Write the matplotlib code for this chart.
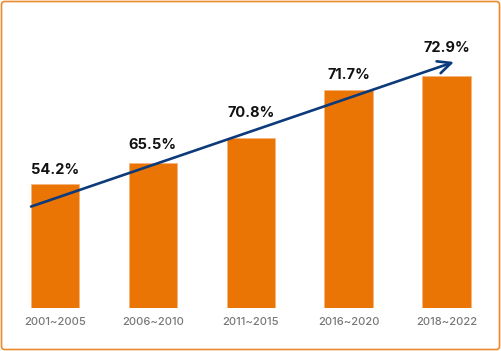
import matplotlib.pyplot as plt
from matplotlib.patches import FancyBboxPatch
from matplotlib.transforms import IdentityTransform

# data
periods = ["2001~2005", "2006~2010", "2011~2015", "2016~2020", "2018~2022"]
shares = [54.2, 65.5, 70.8, 71.7, 72.9]
# drawn bar heights (the original bars are illustrative, not to scale)
bar_heights = [38.8, 45.5, 53.5, 68.5, 72.9]

BAR_COLOR = "#EA7504"
ARROW_COLOR = "#0C3A7A"
BORDER_COLOR = "#E98A2E"
FONT = ["Inter", "DejaVu Sans"]

# label offsets above each bar (points)
label_pad = [10, 13, 18, 11, 20]


def main():
    fig = plt.figure(figsize=(5.01, 3.51), dpi=100)
    ax = fig.add_axes([0, 43.3 / 351, 1, 307.7 / 351])

    x = list(range(len(periods)))
    ax.bar(x, bar_heights, width=0.495, color=BAR_COLOR, edgecolor="#F3B27A", linewidth=0.4)

    for xi, h, v, pad in zip(x, bar_heights, shares, label_pad):
        ax.annotate(f"{v}%", (xi, h), xytext=(0, pad), textcoords="offset points",
                    ha="center", va="center", fontsize=10.5, fontweight="bold",
                    color="#111111", family=FONT)

    # trend arrow from the first bar to above the last one
    x0 = x[0] - 0.245
    y0 = bar_heights[0] * 0.82
    x1 = x[-1] + 0.076
    y1 = bar_heights[-1] + 4.4
    ax.annotate("", xy=(x1, y1), xytext=(x0, y0),
                arrowprops=dict(arrowstyle="->,head_length=0.95,head_width=0.45",
                                color=ARROW_COLOR, lw=1.9, shrinkA=0, shrinkB=0))

    ax.set_xlim(-0.562, 4.556)
    ax.set_ylim(0, 96.8)
    ax.set_xticks(x)
    ax.set_xticklabels(periods, color="#777777", fontsize=8, family=FONT, fontweight="medium")
    ax.tick_params(axis="x", length=0, pad=7)
    ax.set_yticks([])
    for s in ax.spines.values():
        s.set_visible(False)
    ax.patch.set_alpha(0)

    border = FancyBboxPatch((1.5, 1.5), 498, 348, boxstyle="round,pad=0,rounding_size=3",
                            transform=IdentityTransform(), fill=False,
                            edgecolor=BORDER_COLOR, linewidth=1.2)
    fig.patches.append(border)

    fig.savefig("out.png", dpi=100)
    plt.close(fig)


if __name__ == "__main__":
    main()
